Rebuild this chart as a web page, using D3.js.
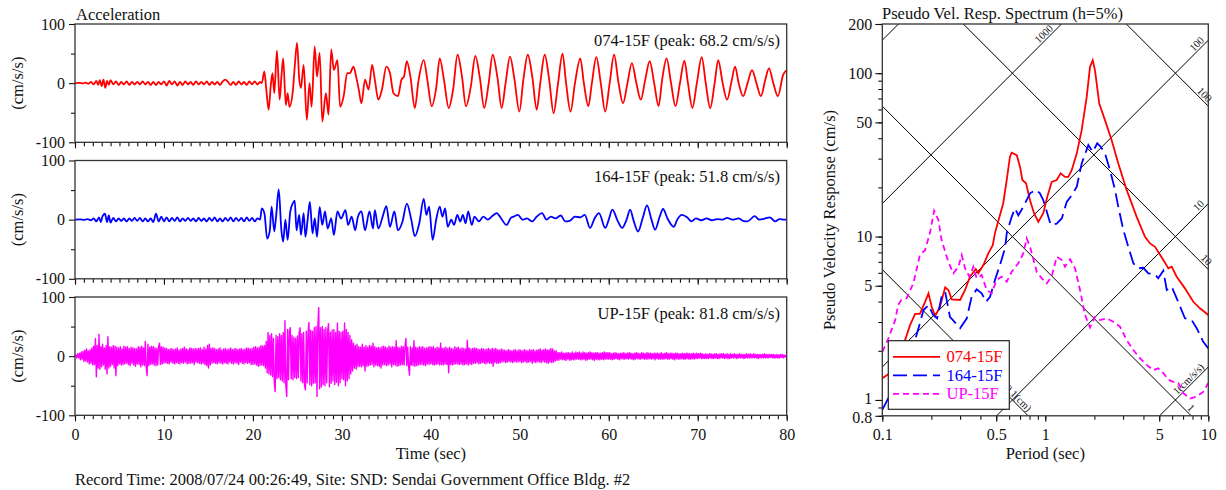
<!DOCTYPE html>
<html>
<script src="https://d3js.org/d3.v7.min.js"></script>
<style>
    body {margin: 0; background: #fff;}
    text {font-family: "Liberation Serif", "Times New Roman", serif;}
</style>
<body>
<div id="chart"></div>
<script>
// acceleration records, [time (s), cm/s/s]
var wave074 = [[0,0],[0.5,0.5],[0.9,-0.5],[1.2,1],[1.5,-1],[1.8,2],[2.1,-2],[2.4,4],[2.6,-3],[2.8,5],[3.0,-5],[3.2,6],[3.4,-8],[3.6,4],[3.8,-3],[4.0,5],[4.3,-2],[4.6,3],[4.9,-3],[5.2,2],[5.5,-2],[5.8,3],[6.1,-3],[6.4,2],[6.7,-2],[7.0,2],[7.3,-2],[7.6,3],[7.9,-2],[8.2,2],[8.5,-3],[8.8,2],[9.1,-3],[9.4,2],[9.7,-2],[10.0,3],[10.3,-4],[10.6,4],[10.9,-2],[11.2,3],[11.5,-4],[11.8,2],[12.1,-3],[12.4,3],[12.7,-2],[13.0,2],[13.3,-3],[13.6,3],[13.9,-2],[14.2,2],[14.5,-2],[14.8,3],[15.1,-3],[15.4,2],[15.7,-2],[16.0,2],[16.3,-3],[16.6,3],[16.9,6],[17.2,2],[17.5,-3],[17.8,2],[18.1,-3],[18.4,3],[18.7,-2],[19.0,2],[19.3,-3],[19.6,3],[19.9,-2],[20.2,3],[20.5,-2],[20.8,2],
    [21.0,0],[21.28,20],[21.5,-10],[21.77,-45],[22.0,-5],[22.2,17],[22.4,-17],[22.7,55],[23.0,-28],[23.2,10],[23.4,42],[23.7,-37],[23.9,-17],[24.1,-40],[24.5,-11],[24.7,28],[24.96,68],[25.2,8],[25.4,-8],[25.7,31],[26.06,-62],[26.36,0],[26.6,-40],[26.94,62],[27.2,11],[27.5,51],[27.8,-65],[28.2,-17],[28.5,-53],[28.8,57],[29.1,22],[29.5,39],[29.8,-40],[30.2,-22],[30.6,17],[30.9,17],[31.3,28],[31.6,11],[31.9,-11],[32.2,-34],[32.6,6],[33.0,-11],[33.4,31],[33.7,6],[34.1,-28],[34.5,-11],[35.0,28],[35.4,17],[35.8,-17],[36.3,-22],[36.7,6],[36.98,11],[37.3,37],[37.7,11],[38.2,-42],[38.6,3],[39.2,39],[39.6,6],[40.1,-39],[40.6,-8],[41.0,42],[41.5,3],[42.0,-42],[42.5,-11],[43.0,48],[43.5,11],[43.95,-39],[44.5,-5],[45.0,46],[45.5,10],[46.0,-42],[46.5,0],[46.95,48],[47.5,8],[47.96,-42],[48.4,0],[48.9,45],[49.4,6],[49.95,-48],[50.4,6],[50.9,48],[51.4,11],[51.9,-45],[52.3,0],[52.8,48],[53.3,6],[53.8,-51],[54.3,0],[54.8,50],[55.2,0],[55.7,-48],[56.2,0],[56.8,42],[57.2,0],[57.7,-39],[58.1,0],[58.6,44],[59.1,0],[59.6,-48],[60.1,0],[60.6,48],[61.1,0],[61.6,-34],[62.1,0],[62.6,34],[63.1,0],[63.6,-28],[64.1,6],[64.6,37],[65.1,0],[65.6,-39],[66.0,6],[66.5,42],[67.0,0],[67.5,-39],[68.0,0],[68.5,38],[68.9,0],[69.4,-42],[69.9,0],[70.45,44],[70.9,0],[71.4,-42],[71.9,0],[72.3,39],[72.8,0],[73.3,-28],[73.8,3],[74.2,28],[74.6,0],[75.1,-22],[75.6,0],[76.1,22],[76.6,0],[77.1,-22],[77.6,6],[78.0,25],[78.5,0],[79.0,-22],[79.6,14],[80,22]];

var wave164 = [[0,0],[0.6,0.5],[1.0,-0.5],[1.4,1],[1.8,-1],[2.1,2],[2.4,-3],[2.7,4],[2.9,-4],[3.1,6],[3.37,10],[3.6,-4],[3.8,7],[4.0,-5],[4.3,3],[4.6,-3],[4.9,2],[5.2,-2],[5.5,2],[5.8,-3],[6.1,2],[6.4,-2],[6.7,3],[7.0,-2],[7.3,3],[7.6,-3],[7.9,2],[8.2,-3],[8.5,2],[8.8,-4],[9.1,10],[9.4,-3],[9.7,5],[10.0,-3],[10.3,4],[10.6,-3],[10.9,3],[11.2,-2],[11.5,4],[11.8,-3],[12.1,2],[12.4,-2],[12.7,3],[13.0,-2],[13.3,2],[13.6,-3],[13.9,3],[14.2,-2],[14.5,2],[14.8,-3],[15.1,3],[15.4,-2],[15.7,4],[16.0,-3],[16.3,2],[16.6,-3],[16.9,3],[17.2,-2],[17.5,4],[17.8,-3],[18.1,3],[18.4,-2],[18.7,3],[19.0,-3],[19.3,4],[19.6,-2],[19.9,3],[20.2,-3],[20.5,2],[20.8,0],
    [21.0,19],[21.3,10],[21.6,-32],[21.9,-18],[22.1,22],[22.4,-20],[22.6,5],[22.9,51],[23.2,-18],[23.4,-37],[23.65,0],[23.9,-34],[24.2,14],[24.5,28],[24.7,32],[24.9,-18],[25.2,8],[25.4,-26],[25.7,11],[25.9,-29],[26.15,0],[26.4,30],[26.7,-23],[26.95,2],[27.2,-29],[27.5,21],[27.8,-9],[28.1,14],[28.4,-15],[28.8,2],[29.1,-26],[29.5,14],[29.9,2],[30.4,16],[30.7,-9],[31.1,5],[31.5,-18],[31.8,5],[32.2,14],[32.6,-18],[33.1,14],[33.5,-15],[33.7,16],[34.1,-15],[34.6,6],[35.0,23],[35.4,-12],[35.9,14],[36.3,-18],[36.8,-4],[37.3,27],[37.8,0],[38.2,-28],[38.7,-6],[39.2,35],[39.5,8],[39.8,22],[40.2,-34],[40.6,0],[41.0,22],[41.3,5],[41.6,19],[41.9,-12],[42.3,0],[42.6,-9],[42.98,8],[43.3,-3],[43.6,8],[43.9,-6],[44.2,14],[44.6,-9],[44.9,5],[45.4,-3],[45.9,5],[46.4,0],[46.9,6],[47.4,11],[47.9,2],[48.5,-9],[49.0,3],[49.3,5],[49.8,8],[50.3,0],[50.8,2],[51.4,-3],[51.9,5],[52.5,11],[53.0,0],[53.5,5],[54.0,2],[54.6,7],[55.1,-3],[55.6,-2],[56.2,5],[56.8,4],[57.3,8],[57.9,-14],[58.4,2],[58.9,11],[59.6,-14],[60.0,0],[60.4,17],[61.0,-2],[61.5,-14],[62.0,0],[62.4,17],[62.8,-2],[63.3,-20],[63.8,2],[64.3,24],[64.8,0],[65.2,-17],[65.7,4],[66.1,18],[66.6,2],[67.3,-12],[67.7,0],[68.2,8],[68.8,4],[69.3,-3],[69.8,2],[70.4,-1],[71.0,2],[71.6,-1],[72.2,1],[72.8,0],[73.3,3],[73.9,0],[74.6,2],[75.1,-2],[75.6,-3],[76.4,6],[76.9,0],[77.6,2],[78.1,4],[78.7,-3],[79.2,1],[79.7,0],[80,0]];

// UP record sampled every 0.1 s (one row per second)
var upStep = 0.1;
var waveUP = [
    0,2,-3,4,-3,5,-6,7,-5,8,
    -9,10,-8,12,-10,9,-13,11,-12,14,
    -15,17,-14,30,-35,18,-20,37,-22,16,
    -18,20,-15,14,-22,18,-30,33,-20,16,
    -17,15,-14,18,-20,17,-33,15,-16,14,
    -13,16,-15,12,-14,17,-13,15,-12,16,
    -14,13,-16,15,-12,14,-15,13,-17,12,
    -13,16,-14,15,-18,17,-15,14,-16,25,
    -18,-33,20,-16,15,-14,17,-13,16,-15,
    14,-16,13,-15,17,22,-14,16,-13,15,
    -12,14,-11,13,-12,11,-13,12,-10,13,
    -12,11,-13,12,-11,14,-12,10,-13,12,
    -11,13,-12,15,-10,12,-13,11,-12,14,
    -12,13,-11,12,-14,13,-10,12,-11,13,
    -12,14,-13,11,-12,15,-14,12,-16,18,
    -20,20,-15,13,-12,14,-11,13,-12,11,
    -13,12,-11,14,-12,10,-13,12,-11,13,
    -12,11,-13,12,-10,14,-12,11,-13,12,
    -11,13,-12,11,-14,12,-10,13,-12,11,
    -13,12,-11,14,-12,13,-11,12,-14,13,
    -14,15,-13,16,-15,14,-17,15,-16,18,
    -15,17,-16,18,-20,25,-28,40,-30,35,
    -32,38,-35,30,-45,-60,35,-38,33,-36,
    38,-40,35,-42,40,-45,60,-50,-68,45,
    -40,42,48,-38,35,-40,32,-36,30,-38,
    34,-36,40,48,-42,38,-45,40,-50,-57,
    42,-45,40,57,-48,44,-50,42,-46,48,
    -45,50,-68,52,82,-55,48,-52,50,-48,
    45,-50,48,-45,42,55,-52,40,-46,44,
    -42,45,-48,40,-44,56,-50,42,-45,40,
    -38,42,-40,56,-50,45,-42,40,-38,35,
    -30,28,-25,22,-20,18,-22,20,-18,16,
    -17,15,-18,20,-16,15,-25,18,-17,15,
    -16,18,-15,17,-14,22,-18,16,-15,14,
    -16,15,-17,14,-20,16,-15,17,-14,15,
    -16,14,-15,17,-13,15,-18,16,-14,15,
    -15,26,-17,15,-16,14,-15,17,-14,16,
    -15,17,30,-16,15,-18,-32,16,-15,14,
    -16,26,-17,15,-16,14,-15,16,-14,15,
    -14,16,-15,13,-16,14,-13,15,-14,16,
    -13,15,-14,16,-15,13,-14,15,-13,14,
    -15,22,-14,13,-15,14,-13,15,-14,13,
    -28,15,-14,13,-15,12,-14,16,-13,14,
    -13,15,-14,12,-13,14,-15,13,-14,12,
    -13,27,-15,14,-13,12,-14,13,-12,14,
    -12,13,-11,12,-13,11,-12,13,-11,12,
    -12,11,-13,12,-11,13,-12,11,-12,13,
    -17,12,-11,13,-12,11,-12,10,-11,12,
    -10,11,-9,10,-11,9,-10,11,-9,10,
    -10,9,-11,10,-9,11,-10,9,-10,11,
    -9,10,-11,9,-10,11,-9,10,-11,9,
    -10,11,-9,10,-12,11,-10,9,-11,10,
    -9,11,-10,12,-11,10,-9,11,-10,12,
    -11,10,-12,11,-10,13,-11,12,-10,9,
    -8,9,-7,6,-7,6,-5,7,-6,5,
    -6,5,-7,6,-5,6,-7,5,-6,7,
    -6,5,-6,7,-5,6,-5,7,-6,5,
    -6,7,-5,6,-7,5,-6,6,-5,7,
    -5,6,-6,5,-7,6,-5,6,-6,5,
    -6,5,-5,6,-6,7,-5,6,-5,6,
    -5,6,-5,4,-6,5,-5,6,-4,5,
    -5,4,-6,5,-4,5,-5,6,-5,4,
    -4,5,-5,6,-4,5,-5,4,-6,5,
    -5,6,-4,5,-5,4,-5,6,-4,5,
    -5,4,-5,6,-5,5,-4,5,-5,4,
    -4,5,-6,5,-4,5,-5,4,-5,6,
    -5,4,-5,5,-4,6,-5,4,-5,5,
    -4,5,-5,4,-6,5,-4,5,-5,4,
    -5,4,-4,5,-5,4,-5,5,-4,5,
    -5,4,-5,4,-4,5,-5,4,-4,5,
    -4,4,-3,5,-4,4,-4,3,-4,4,
    -4,3,-4,4,-3,4,-4,3,-4,4,
    -3,4,-4,3,-4,4,-3,4,-3,4,
    -4,3,-3,4,-4,3,-4,4,-3,3,
    -3,4,-3,3,-4,3,-3,4,-3,3,
    -3,3,-4,3,-3,4,-3,3,-3,4,
    -3,3,-3,4,-3,3,-3,3,-4,3,
    -3,3,-3,3,-3,4,-3,3,-3,3,
    -3,3,-2,3,-3,3,-3,2,-3,3,
    -3,2,-3,3,-2,3,-3,2,-2,1,
    0];

var channelNames = ["074-15F", "164-15F", "UP-15F"];
var channelPeaks = ["68.2", "51.8", "81.8"];
var channelColors = ["#ff0000", "#0000ff", "#ff00ff"];
var timeTicks = [0, 10, 20, 30, 40, 50, 60, 70, 80];
var accTicks = [-100, 0, 100];

// pseudo velocity response spectra, [period (s), cm/s]
var spec074 = [[0.1,1.36],[0.114,1.48],[0.125,1.88],[0.138,2.33],[0.148,2.87],[0.159,3.36],[0.170,3.36],[0.183,3.99],[0.192,4.49],[0.201,3.72],[0.211,3.26],[0.226,3.72],[0.243,4.89],[0.254,4.71],[0.267,4.13],[0.300,4.09],[0.322,4.71],[0.345,5.68],[0.374,6.33],[0.388,5.96],[0.417,6.70],[0.447,7.89],[0.476,8.87],[0.491,10.5],[0.552,16.0],[0.580,22.2],[0.607,30.8],[0.622,32.6],[0.668,31.5],[0.700,26.7],[0.723,22.2],[0.762,21.2],[0.806,16.7],[0.853,13.9],[0.906,12.3],[0.972,13.9],[1.028,17.5],[1.094,21.6],[1.175,22.2],[1.242,24.4],[1.321,23.2],[1.384,23.2],[1.452,25.5],[1.560,32.3],[1.672,44.8],[1.795,71.6],[1.880,109],[1.954,120],[2.018,104],[2.143,65.3],[2.323,51.6],[2.553,38.9],[2.805,28.0],[3.155,19.3],[3.635,13.2],[4.09,9.97],[4.39,9.08],[4.71,8.66],[5.30,7.18],[5.69,6.39],[5.96,6.54],[6.40,5.68],[7.19,4.82],[8.09,3.99],[8.89,3.64],[10,3.31]];
var spec164 = [[0.1,0.87],[0.120,1.24],[0.138,1.76],[0.159,2.33],[0.170,2.94],[0.179,3.55],[0.192,3.81],[0.205,3.31],[0.217,3.16],[0.231,4.28],[0.243,4.59],[0.260,3.23],[0.300,2.75],[0.330,3.16],[0.353,4.28],[0.379,4.75],[0.407,4.49],[0.433,3.99],[0.458,4.28],[0.491,5.42],[0.527,6.70],[0.566,8.47],[0.580,10.5],[0.622,13.2],[0.652,14.9],[0.683,13.5],[0.733,15.2],[0.806,18.4],[0.877,19.3],[0.927,18.4],[0.972,16.7],[1.028,13.9],[1.079,11.8],[1.175,12.0],[1.262,12.9],[1.353,16.3],[1.452,17.9],[1.560,20.2],[1.672,28.0],[1.837,36.3],[1.954,33.0],[2.084,37.2],[2.188,35.4],[2.323,32.3],[2.494,25.5],[2.677,19.3],[2.805,15.2],[3.01,11.0],[3.23,8.66],[3.47,6.86],[3.72,6.39],[3.99,6.44],[4.29,5.96],[4.71,5.87],[4.93,5.55],[5.30,6.18],[5.56,4.71],[5.96,4.93],[6.40,4.19],[7.19,3.16],[7.91,3.08],[8.49,2.75],[9.31,2.27],[10,2.07]];
var specUP = [[0.1,1.97],[0.109,2.38],[0.120,3.08],[0.125,3.81],[0.131,4.09],[0.141,4.19],[0.155,5.17],[0.170,7.71],[0.183,8.26],[0.196,10.5],[0.208,14.4],[0.221,12.6],[0.231,9.52],[0.254,7.01],[0.273,5.96],[0.293,6.54],[0.307,7.71],[0.322,6.39],[0.342,5.68],[0.362,6.54],[0.379,5.55],[0.407,5.82],[0.437,4.71],[0.469,4.49],[0.503,5.42],[0.540,5.68],[0.580,5.29],[0.622,6.09],[0.683,6.86],[0.733,7.89],[0.769,9.75],[0.806,8.66],[0.886,6.09],[0.951,5.55],[1.021,5.17],[1.094,5.68],[1.175,7.52],[1.262,7.18],[1.321,6.54],[1.419,7.26],[1.521,6.39],[1.633,4.71],[1.753,3.31],[1.880,2.78],[2.018,3.23],[2.165,3.08],[2.382,3.16],[2.612,3.01],[2.871,2.81],[3.155,2.33],[3.47,2.02],[3.81,1.80],[4.19,1.64],[4.60,1.52],[4.93,1.56],[5.30,1.46],[5.69,1.33],[6.10,1.29],[6.55,1.27],[7.03,1.10],[7.73,1.02],[8.49,1.05],[9.31,1.12],[10,1.27]];

var accelLines = [1, 10, 100, 1000, 10000];   // cm/s/s
var dispLines = [0.1, 1, 10, 100];            // cm
var periodTicks = [0.1, 0.5, 1, 5, 10];
var svTicks = [0.8, 1, 5, 10, 50, 100, 200];

var font = '"Liberation Serif", "Times New Roman", serif';
var ink = "#111";
var fs = 16.5;

var svg = d3.select("#chart").append("svg")
    .attr("width", 1226)
    .attr("height", 490);
svg.append("rect").attr("width", 1226).attr("height", 490).attr("fill", "#fff");

function styleAxis(g)
{
    g.attr("font-family", font).attr("font-size", 16).style("color", ink);
    g.selectAll(".domain").remove();
    g.selectAll("line").attr("stroke-width", 1.1);
}

// ---------- acceleration panels ----------
var left = 75, right = 786.7, panelH = 118.3;
var panelTops = [24, 160.5, 297];
var x = d3.scaleLinear().domain([0, 80]).range([left, right]);
var waves = [wave074, wave164, waveUP.map(function(v, i){ return [i * upStep, v]; })];

waves.forEach(function(w, k)
{
    var top = panelTops[k];
    var y = d3.scaleLinear().domain([-100, 100]).range([top + panelH, top]);
    var g = svg.append("g");

    g.append("g").attr("transform", "translate(" + left + ",0)")
        .call(d3.axisLeft(y).tickValues([-50, 50]).tickSize(4).tickFormat(""))
        .call(styleAxis);
    g.append("g").attr("transform", "translate(" + left + ",0)")
        .call(d3.axisLeft(y).tickValues(accTicks).tickSize(6).tickPadding(4).tickFormat(function(d){ return String(d); }))
        .call(styleAxis);
    g.append("g").attr("transform", "translate(0," + (top + panelH) + ")")
        .call(d3.axisBottom(x).tickValues(d3.range(0, 81, 1)).tickSize(4).tickFormat(""))
        .call(styleAxis);
    var bx = g.append("g").attr("transform", "translate(0," + (top + panelH) + ")")
        .call(d3.axisBottom(x).tickValues(timeTicks).tickSize(6).tickPadding(7))
        .call(styleAxis);
    if (k < 2) bx.selectAll("text").remove();

    g.append("path")
        .datum(w)
        .attr("fill", "none")
        .attr("stroke", channelColors[k])
        .attr("stroke-width", k < 2 ? 1.8 : 1.4)
        .attr("stroke-linejoin", "round")
        .attr("d", d3.line()
            .x(function(d){ return x(d[0]); })
            .y(function(d){ return y(d[1]); })
            .curve(k < 2 ? d3.curveMonotoneX : d3.curveLinear));

    g.append("rect")
        .attr("x", left).attr("y", top)
        .attr("width", right - left).attr("height", panelH)
        .attr("fill", "none").attr("stroke", "#333").attr("stroke-width", 1.3);

    g.append("text")
        .attr("x", 780).attr("y", top + 21.5)
        .attr("text-anchor", "end").attr("font-size", fs).attr("fill", ink)
        .text(channelNames[k] + " (peak: " + channelPeaks[k] + " cm/s/s)");

    g.append("text")
        .attr("transform", "translate(23," + (top + panelH / 2) + ") rotate(-90)")
        .attr("text-anchor", "middle").attr("font-size", fs).attr("fill", ink)
        .text("(cm/s/s)");
});

svg.append("text").attr("x", 76).attr("y", 19.5).attr("font-size", fs).attr("fill", ink).text("Acceleration");
svg.append("text").attr("x", (left + right) / 2).attr("y", 459).attr("text-anchor", "middle")
    .attr("font-size", fs).attr("fill", ink).text("Time (sec)");
svg.append("text").attr("x", 75).attr("y", 484.5).attr("font-size", fs).attr("fill", ink)
    .text("Record Time: 2008/07/24 00:26:49, Site: SND: Sendai Government Office Bldg. #2");

// ---------- response spectrum ----------
var sx = d3.scaleLog().domain([0.1, 10]).range([882.3, 1208.3]);
var sy = d3.scaleLog().domain([0.8, 200]).range([415.8, 24]);
var sg = svg.append("g");

svg.append("clipPath").attr("id", "specClip")
    .append("rect").attr("x", sx(0.1)).attr("y", sy(200))
    .attr("width", sx(10) - sx(0.1)).attr("height", sy(0.8) - sy(200));

var minorT = d3.range(1, 10).map(function(d){ return d / 10; }).concat(d3.range(1, 11));
var minorV = [0.8, 0.9].concat(d3.range(1, 10), d3.range(10, 100, 10), [100, 200]);

sg.append("g").attr("transform", "translate(0," + sy(0.8) + ")")
    .call(d3.axisBottom(sx).tickValues(minorT).tickSize(4).tickFormat(""))
    .call(styleAxis);
sg.append("g").attr("transform", "translate(0," + sy(0.8) + ")")
    .call(d3.axisBottom(sx).tickValues(periodTicks).tickSize(6).tickPadding(7).tickFormat(function(d){ return String(d); }))
    .call(styleAxis);
sg.append("g").attr("transform", "translate(" + sx(0.1) + ",0)")
    .call(d3.axisLeft(sy).tickValues(minorV).tickSize(4).tickFormat(""))
    .call(styleAxis);
var syAxis = sg.append("g").attr("transform", "translate(" + sx(0.1) + ",0)")
    .call(d3.axisLeft(sy).tickValues(svTicks).tickSize(7).tickPadding(3).tickFormat(function(d){ return String(d); }))
    .call(styleAxis);
// nudge the two crowded bottom labels apart a little
syAxis.selectAll(".tick text").attr("dy", function(d){ return d === 1 ? "0.2em" : d === 0.8 ? "0.42em" : "0.32em"; });

// tripartite grid
var grid = sg.append("g").attr("clip-path", "url(#specClip)");
var twoPi = 2 * Math.PI;

function gridLine(f, label, tEnd)
{
    var x0 = sx(0.1), y0 = sy(f(0.1)), x1 = sx(10), y1 = sy(f(10));
    grid.append("line")
        .attr("x1", x0).attr("y1", y0).attr("x2", x1).attr("y2", y1)
        .attr("stroke", "#000").attr("stroke-width", 1);
    if (!label) return;
    var ang = Math.atan2(y1 - y0, x1 - x0);
    var px = sx(tEnd), py = sy(f(tEnd));
    var off = tEnd < 10 && ang < 0 ? 9 : 3;
    px -= off * Math.cos(ang);
    py -= off * Math.sin(ang);
    sg.append("text")
        .attr("transform", "translate(" + px + "," + py + ") rotate(" + (ang * 180 / Math.PI) + ")")
        .attr("y", -2)
        .attr("text-anchor", "end").attr("font-size", 10.5).attr("fill", ink)
        .text(label);
}

accelLines.forEach(function(a)
{
    var tEnd = Math.min(10, twoPi * 200 / a);
    gridLine(function(t){ return a * t / twoPi; }, a <= 1000 ? (a === 1 ? "1(cm/s/s)" : String(a)) : null, tEnd);
});
dispLines.forEach(function(dd)
{
    var tEnd = Math.min(10, twoPi * dd / 0.8);
    gridLine(function(t){ return twoPi * dd / t; }, dd === 0.1 ? "0.1(cm)" : String(dd), tEnd);
});

// spectra
var specs = [spec074, spec164, specUP];
var dashes = [null, "14,6", "6,4"];
var specLine = d3.line()
    .x(function(d){ return sx(d[0]); })
    .y(function(d){ return sy(d[1]); });

specs.forEach(function(s, k)
{
    sg.append("path")
        .datum(s)
        .attr("clip-path", "url(#specClip)")
        .attr("fill", "none")
        .attr("stroke", channelColors[k])
        .attr("stroke-width", 1.8)
        .attr("stroke-dasharray", dashes[k])
        .attr("d", specLine);
});

sg.append("rect")
    .attr("x", sx(0.1)).attr("y", sy(200))
    .attr("width", sx(10) - sx(0.1)).attr("height", sy(0.8) - sy(200))
    .attr("fill", "none").attr("stroke", "#333").attr("stroke-width", 1.3);

// legend
var lg = sg.append("g");
lg.append("rect")
    .attr("x", 888.3).attr("y", 340.7).attr("width", 121).attr("height", 68.6)
    .attr("fill", "#fff").attr("stroke", "#222").attr("stroke-width", 1.2);
channelNames.forEach(function(n, k)
{
    var ly = 356.8 + k * 18.5;
    lg.append("line")
        .attr("x1", 893).attr("x2", 940).attr("y1", ly).attr("y2", ly)
        .attr("stroke", channelColors[k]).attr("stroke-width", 1.8)
        .attr("stroke-dasharray", dashes[k]);
    lg.append("text")
        .attr("x", 946.5).attr("y", ly + 5.4)
        .attr("font-size", fs).attr("fill", channelColors[k])
        .text(n);
});

svg.append("text").attr("x", 882).attr("y", 19).attr("font-size", fs).attr("fill", ink)
    .text("Pseudo Vel. Resp. Spectrum (h=5%)");
svg.append("text").attr("x", (sx(0.1) + sx(10)) / 2).attr("y", 459).attr("text-anchor", "middle")
    .attr("font-size", fs).attr("fill", ink).text("Period (sec)");
svg.append("text")
    .attr("transform", "translate(835,220) rotate(-90)")
    .attr("text-anchor", "middle").attr("font-size", fs).attr("fill", ink)
    .text("Pseudo Velocity Response (cm/s)");
</script>
</body>
</html>
